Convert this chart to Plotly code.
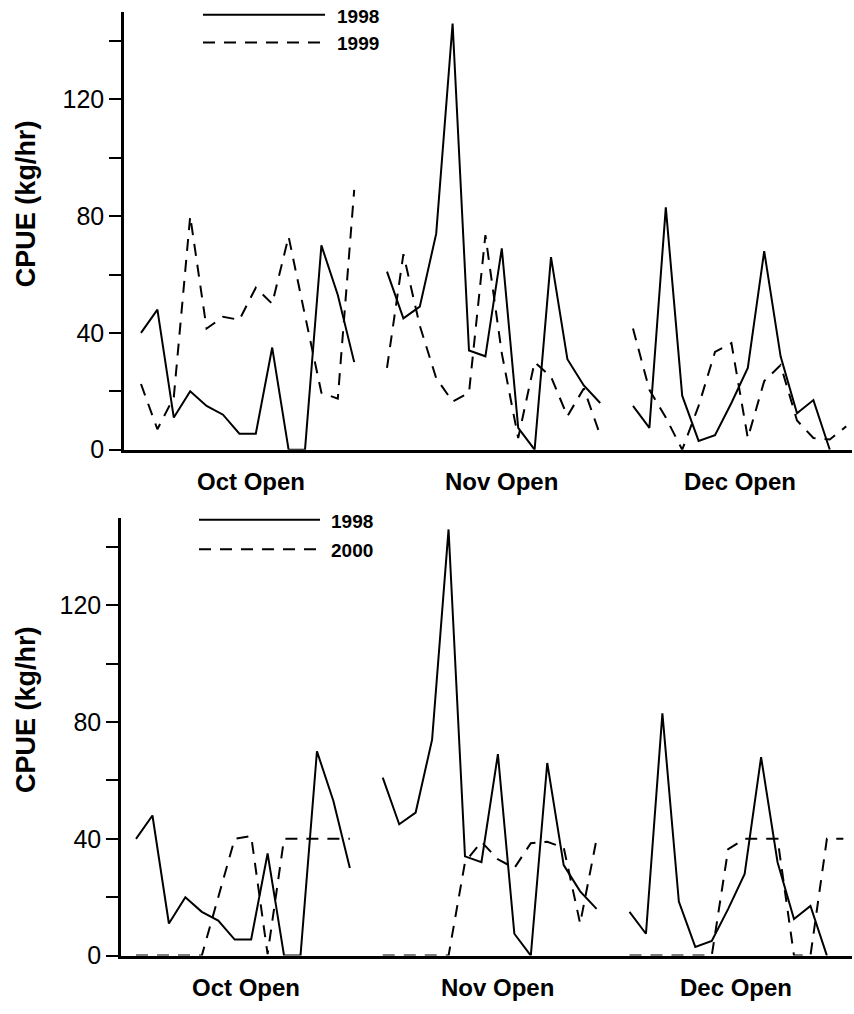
import plotly.graph_objects as go

# ---------------- data ----------------
categories = ["Oct Open", "Nov Open", "Dec Open"]
category_centers = [6.7, 22.0, 36.5]

oct_1998 = [40, 48, 11, 20, 15, 12, 5.5, 5.5, 35, 0, 0, 70, 53, 30]
nov_1998 = [61, 45, 49, 74, 146, 34, 32, 69, 7.5, 0, 66, 31, 22, 16]
dec_1998 = [15, 7.5, 83, 18.5, 3, 5, 16, 28, 68, 32, 12.5, 17, 0]

oct_1999 = [22.5, 7, 18, 80, 41.5, 45.5, 44.5, 55.5, 50, 73, 46, 19.5, 17.5, 89]
nov_1999 = [28, 67, 42.5, 24.5, 16.5, 19.5, 73.5, 33, 4, 30, 25, 11.5, 21, 5]
dec_1999 = [41.5, 20.5, 11, 0, 15, 33.5, 36.5, 4, 23.5, 29, 10, 4, 3.5, 8]

oct_2000 = [0, 0, 0, 0, 0, 20, 40, 41, 0.5, 40, 40, 40, 40, 40]
nov_2000 = [0, 0, 0, 0, 0, 32, 39, 33, 30, 38.5, 39, 37, 11, 40]
dec_2000 = [0, 0, 0, 0, 0, 0, 36.5, 40, 40, 40, 0, 0, 40, 40]

ytick_vals = [0, 20, 40, 60, 80, 100, 120, 140]
ytick_text = ["0", "", "40", "", "80", "", "120", ""]

SEG_START = [0, 15, 30]


def build(segments):
    xs, ys = [], []
    for start, seg in zip(SEG_START, segments):
        xs += list(range(start, start + len(seg))) + [None]
        ys += list(seg) + [None]
    return xs, ys


FONT = "Liberation Sans, Arial, sans-serif"
W, H = 854, 1014
DASH = "12px,9px"

fig = go.Figure()

panels = [
    ("x", "y", [oct_1998, nov_1998, dec_1998], [oct_1999, nov_1999, dec_1999], "1998", "1999"),
    ("x2", "y2", [oct_1998, nov_1998, dec_1998], [oct_2000, nov_2000, dec_2000], "1998", "2000"),
]
for xa, ya, s1, s2, n1, n2 in panels:
    x1, y1 = build(s1)
    x2, y2 = build(s2)
    fig.add_trace(go.Scatter(x=x1, y=y1, mode="lines", name=n1, xaxis=xa, yaxis=ya,
                             line=dict(color="black", width=2), connectgaps=False,
                             showlegend=False))
    fig.add_trace(go.Scatter(x=x2, y=y2, mode="lines", name=n2, xaxis=xa, yaxis=ya,
                             line=dict(color="black", width=2, dash=DASH), connectgaps=False,
                             showlegend=False))


def px_x(p):
    return p / W


def px_y(p):
    return 1 - p / H


common_x = dict(showgrid=False, zeroline=False, showline=True, linecolor="black", linewidth=2.5,
                ticks="", showticklabels=False)
common_y = dict(showgrid=False, zeroline=False, showline=True, linecolor="black", linewidth=2.5,
                ticks="outside", ticklen=12, tickwidth=2, tickcolor="black",
                tickvals=ytick_vals, ticktext=ytick_text, range=[0, 150],
                tickfont=dict(family=FONT, size=25, color="black"))

top_l, top_x0, top_s = 124, 141, 16.4
bot_l, bot_x0, bot_s = 121, 136, 16.45

fig.update_layout(
    width=W, height=H, margin=dict(l=0, r=0, t=0, b=0),
    paper_bgcolor="white", plot_bgcolor="white", showlegend=False,
    xaxis=dict(common_x, domain=[px_x(top_l), px_x(852)],
               range=[(top_l - top_x0) / top_s, (852 - top_x0) / top_s], anchor="y"),
    yaxis=dict(common_y, domain=[px_y(456), px_y(12)], anchor="x"),
    xaxis2=dict(common_x, domain=[px_x(bot_l), px_x(852)],
                range=[(bot_l - bot_x0) / bot_s, (852 - bot_x0) / bot_s], anchor="y2"),
    yaxis2=dict(common_y, domain=[px_y(969), px_y(525)], anchor="x2"),
)

annotations = []
shapes = []
for xa, lab_y, title_y in [("x", 488, 207), ("x2", 1001, 720)]:
    for cat, c in zip(categories, category_centers):
        annotations.append(dict(x=c, y=px_y(lab_y), xref=xa, yref="paper", text=cat,
                                showarrow=False, xanchor="center", yanchor="middle",
                                font=dict(family=FONT, size=24, color="black", weight="bold")))
    annotations.append(dict(x=px_x(26), y=px_y(title_y), xref="paper", yref="paper",
                            text="CPUE (kg/hr)", textangle=-90, showarrow=False,
                            xanchor="center", yanchor="middle",
                            font=dict(family=FONT, size=27, color="black", weight="bold")))

for (x0, x1, ys, yd, tx, n1, n2) in [(203, 325, 15, 43, 336, "1998", "1999"),
                                     (199, 320, 527, 557, 330, "1998", "2000")]:
    shapes.append(dict(type="line", xref="paper", yref="paper", x0=px_x(x0), x1=px_x(x1),
                       y0=px_y(ys), y1=px_y(ys), line=dict(color="black", width=2)))
    shapes.append(dict(type="line", xref="paper", yref="paper", x0=px_x(x0), x1=px_x(x1),
                       y0=px_y(yd), y1=px_y(yd), line=dict(color="black", width=2, dash=DASH)))
    for n, yy in [(n1, ys + 2), (n2, yd + 1)]:
        annotations.append(dict(x=px_x(tx), y=px_y(yy), xref="paper", yref="paper", text=n,
                                showarrow=False, xanchor="left", yanchor="middle", borderpad=0,
                                font=dict(family=FONT, size=19, color="black", weight="bold")))

fig.update_layout(annotations=annotations, shapes=shapes)
fig.write_html(
    "out.html",
    config={"displayModeBar": False},
    post_script="document.documentElement.style.margin='0';document.body.style.margin='0';"
                "document.body.style.padding='0';document.body.style.overflow='hidden';",
)
